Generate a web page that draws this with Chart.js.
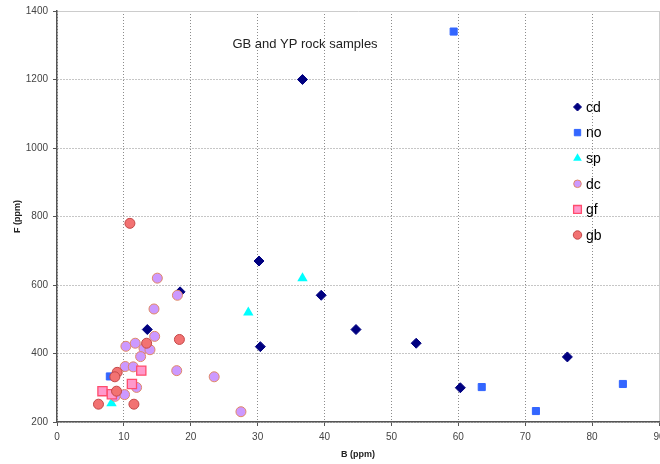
<!DOCTYPE html>
<html>
<head>
<meta charset="utf-8">
<script src="https://cdn.jsdelivr.net/npm/chart.js@4/dist/chart.umd.min.js"></script>
<style>
  html, body { margin: 0; padding: 0; background: #fff; }
  #wrap { width: 660px; height: 464px; }
</style>
</head>
<body>
<div id="wrap"><canvas id="chart" width="660" height="464"></canvas></div>
<script>
// values, B (ppm) / F (ppm)
var cdB = [36.7, 30.2, 39.5, 18.4, 13.5, 30.4, 44.7, 53.7, 60.3, 76.3];
var cdF = [1200, 670, 570, 580, 470, 420, 470, 430, 300, 390];

var noB = [59.3, 63.5, 71.6, 84.6, 7.9];
var noF = [1340, 302, 232, 311, 333];

var spB = [36.7, 28.6, 8.15];
var spF = [620, 520, 255];

var dcB = [15.0, 18.0, 14.5, 14.6, 10.3, 11.7, 13.0, 13.9, 12.5, 10.2, 11.4, 17.9, 23.5, 27.5, 11.9, 10.1, 8.7];
var dcF = [620, 570, 530, 450, 421, 430, 415, 411, 391, 362, 361, 350, 332, 230, 301, 280, 275];

var gfB = [12.6, 11.2, 6.8, 8.2];
var gfF = [350, 311, 290, 281];

var gbB = [10.9, 18.3, 13.4, 9.0, 8.65, 8.9, 6.2, 11.5];
var gbF = [780, 441, 430, 345, 332, 290, 252, 252];

var chartTitle = 'GB and YP rock samples';
var xTitle = 'B (ppm)';
var yTitle = 'F (ppm)';

function pairs(xs, ys) {
    return xs.map(function (x, i) { return {x: x, y: ys[i]}; });
}

Chart.defaults.font.family = "'Liberation Sans', Arial, sans-serif";

var series = [
    {label: 'cd', data: pairs(cdB, cdF), pointStyle: 'rectRot', radius: 5, bg: '#000080', bd: '#000080', bw: 1, order: 6, lr: 4},
    {label: 'no', data: pairs(noB, noF), pointStyle: 'rect', radius: 5, bg: '#3366ff', bd: '#3366ff', bw: 1, order: 5, lr: 4.5},
    {label: 'sp', data: pairs(spB, spF), pointStyle: 'triangle', radius: 6, bg: '#00ffff', bd: '#00ffff', bw: 0, order: 4, lr: 5},
    {label: 'dc', data: pairs(dcB, dcF), pointStyle: 'circle', radius: 5, bg: '#cc99ff', bd: '#e08866', bw: 1, order: 3, lr: 3.8},
    {label: 'gf', data: pairs(gfB, gfF), pointStyle: 'rect', radius: 6.5, bg: '#ff99cc', bd: '#ff4d6d', bw: 1.3, order: 2, lr: 5.5},
    {label: 'gb', data: pairs(gbB, gbF), pointStyle: 'circle', radius: 5, bg: '#f27272', bd: '#c44848', bw: 1, order: 1, lr: 4.2}
];

// title and legend sit inside the plot area
var insidePlugin = {
    id: 'inside',
    afterDraw: function (chart) {
        var ctx = chart.ctx;
        ctx.save();
        ctx.fillStyle = '#222';
        ctx.font = "13px 'Liberation Sans', Arial, sans-serif";
        ctx.textAlign = 'center';
        ctx.textBaseline = 'middle';
        ctx.fillText(chartTitle, 305, 44);

        ctx.font = "14px 'Liberation Sans', Arial, sans-serif";
        ctx.textAlign = 'left';
        series.forEach(function (s, i) {
            var y = 107 + i * 25.6;
            ctx.fillStyle = s.bg;
            ctx.strokeStyle = s.bd;
            ctx.lineWidth = s.bw;
            Chart.helpers.drawPoint(ctx, {pointStyle: s.pointStyle, radius: s.lr, rotation: 0, borderWidth: s.bw}, 577.5, y);
            ctx.fillStyle = '#000';
            ctx.fillText(s.label, 586, y + 1);
        });
        ctx.restore();
    }
};

function gridColor(last) {
    return function (c) { return c.tick && c.tick.value === last ? '#cccccc' : '#8c8c8c'; };
}
function gridDash(last) {
    return function (c) { return c.tick && c.tick.value === last ? [] : [1, 2]; };
}
function plain(v) { return String(v); }

var ctx = document.getElementById('chart').getContext('2d');
var chart = new Chart(ctx, {
    type: 'scatter',
    data: {
        datasets: series.map(function (s) {
            return {
                label: s.label,
                data: s.data,
                order: s.order,
                pointStyle: s.pointStyle,
                pointRadius: s.radius,
                pointHoverRadius: s.radius,
                backgroundColor: s.bg,
                borderColor: s.bd,
                pointBorderWidth: s.bw,
                borderWidth: s.bw
            };
        })
    },
    options: {
        responsive: false,
        animation: false,
        layout: {autoPadding: false, padding: {top: 11, right: 1, left: 0, bottom: 0}},
        plugins: {
            legend: {display: false},
            title: {display: false},
            tooltip: {enabled: false}
        },
        scales: {
            x: {
                type: 'linear',
                min: 0,
                max: 90,
                ticks: {stepSize: 10, color: '#444', font: {size: 10}, padding: 5, maxRotation: 0, callback: plain},
                grid: {color: gridColor(90), lineWidth: 1, tickColor: '#555', tickLength: 4, tickBorderDash: []},
                border: {display: true, color: '#555', width: 1.5, dash: gridDash(90)},
                title: {display: true, text: xTitle, color: '#222', font: {size: 9, weight: 'bold'}, padding: {top: 0, bottom: 4}},
                afterFit: function (s) { s.height = 42; s.paddingLeft = 0; s.paddingRight = 0; }
            },
            y: {
                type: 'linear',
                min: 200,
                max: 1400,
                ticks: {stepSize: 200, color: '#444', font: {size: 10}, padding: 5, callback: plain},
                grid: {color: gridColor(1400), lineWidth: 1, tickColor: '#555', tickLength: 4, tickBorderDash: []},
                border: {display: true, color: '#555', width: 1.5, dash: gridDash(1400)},
                title: {display: true, text: yTitle, color: '#222', font: {size: 9, weight: 'bold'}, padding: {top: 12, bottom: 0}},
                afterFit: function (s) { s.width = 57; s.paddingTop = 0; s.paddingBottom = 0; }
            }
        }
    },
    plugins: [insidePlugin]
});
</script>
</body>
</html>
